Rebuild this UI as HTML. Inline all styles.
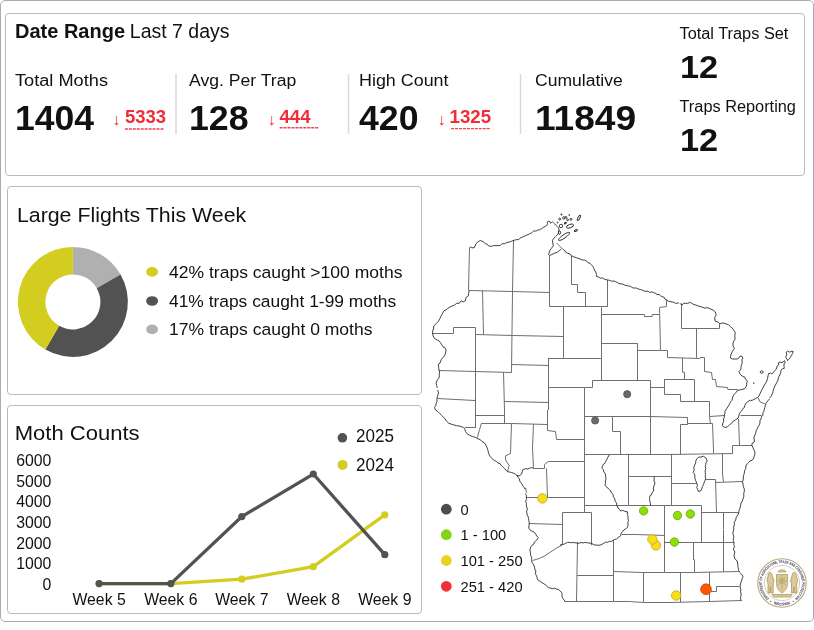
<!DOCTYPE html>
<html><head><meta charset="utf-8"><style>
html,body{margin:0;padding:0;background:#fff;}
body{width:814px;height:630px;position:relative;overflow:hidden;font-family:"Liberation Sans", Arial, sans-serif;}
.b{position:absolute;box-sizing:border-box;border:1px solid #bababa;border-radius:4px;background:#fff;}
svg{position:absolute;left:0;top:0;}
svg text{font-family:"Liberation Sans", Arial, sans-serif;}
</style></head><body>
<div class="b" style="left:0;top:0;width:814px;height:622px;border-color:#acacac;border-radius:5px"></div>
<div class="b" style="left:5px;top:13px;width:800px;height:163px"></div>
<div class="b" style="left:7px;top:186px;width:415px;height:209px"></div>
<div class="b" style="left:7px;top:405px;width:415px;height:209px"></div>
<svg width="814" height="630" viewBox="0 0 814 630">
<text x="15.00" y="38.2" font-size="19.6" font-weight="bold" fill="#111" text-anchor="start" textLength="110.03" lengthAdjust="spacingAndGlyphs">Date Range</text>
<text x="129.80" y="38.2" font-size="19.6" font-weight="normal" fill="#111" text-anchor="start" textLength="99.74" lengthAdjust="spacingAndGlyphs">Last 7 days</text>
<text x="15.00" y="85.9" font-size="17.3" font-weight="normal" fill="#111" text-anchor="start" textLength="92.98" lengthAdjust="spacingAndGlyphs">Total Moths</text>
<text x="15.00" y="130.4" font-size="34.5" font-weight="bold" fill="#111" text-anchor="start" textLength="79.05" lengthAdjust="spacingAndGlyphs">1404</text>
<text x="112.20" y="124.6" font-size="16" font-weight="normal" fill="#f22c36" text-anchor="start">↓</text>
<text x="125.00" y="123.1" font-size="17.8" font-weight="bold" fill="#f22c36" text-anchor="start" textLength="41.10" lengthAdjust="spacingAndGlyphs">5333</text>
<line x1="124.9" y1="129.0" x2="164.3" y2="129.0" stroke="#f22c36" stroke-width="1.4" stroke-dasharray="3,0.95" opacity="0.9"/>
<text x="189.00" y="85.9" font-size="17.3" font-weight="normal" fill="#111" text-anchor="start" textLength="107.22" lengthAdjust="spacingAndGlyphs">Avg. Per Trap</text>
<text x="189.00" y="130.4" font-size="34.5" font-weight="bold" fill="#111" text-anchor="start" textLength="59.56" lengthAdjust="spacingAndGlyphs">128</text>
<text x="267.50" y="124.6" font-size="16" font-weight="normal" fill="#f22c36" text-anchor="start">↓</text>
<text x="279.50" y="123.1" font-size="17.8" font-weight="bold" fill="#f22c36" text-anchor="start" textLength="31.00" lengthAdjust="spacingAndGlyphs">444</text>
<line x1="279.6" y1="127.7" x2="319.0" y2="127.7" stroke="#f22c36" stroke-width="1.4" stroke-dasharray="3,0.95" opacity="0.9"/>
<text x="359.00" y="85.9" font-size="17.3" font-weight="normal" fill="#111" text-anchor="start" textLength="89.55" lengthAdjust="spacingAndGlyphs">High Count</text>
<text x="359.00" y="130.4" font-size="34.5" font-weight="bold" fill="#111" text-anchor="start" textLength="59.46" lengthAdjust="spacingAndGlyphs">420</text>
<text x="437.50" y="124.6" font-size="16" font-weight="normal" fill="#f22c36" text-anchor="start">↓</text>
<text x="449.50" y="123.1" font-size="17.8" font-weight="bold" fill="#f22c36" text-anchor="start" textLength="41.60" lengthAdjust="spacingAndGlyphs">1325</text>
<line x1="451.1" y1="128.6" x2="490.5" y2="128.6" stroke="#f22c36" stroke-width="1.4" stroke-dasharray="3,0.95" opacity="0.9"/>
<text x="535.00" y="85.9" font-size="17.3" font-weight="normal" fill="#111" text-anchor="start" textLength="87.73" lengthAdjust="spacingAndGlyphs">Cumulative</text>
<text x="535.00" y="130.4" font-size="34.5" font-weight="bold" fill="#111" text-anchor="start" textLength="101.14" lengthAdjust="spacingAndGlyphs">11849</text>
<line x1="176" y1="74" x2="176" y2="134" stroke="#d8d8d8" stroke-width="1.5"/>
<line x1="348.5" y1="74" x2="348.5" y2="134" stroke="#d8d8d8" stroke-width="1.5"/>
<line x1="520.5" y1="74" x2="520.5" y2="134" stroke="#d8d8d8" stroke-width="1.5"/>
<text x="679.50" y="38.5" font-size="16" font-weight="normal" fill="#111" text-anchor="start" textLength="108.88" lengthAdjust="spacingAndGlyphs">Total Traps Set</text>
<text x="680.00" y="77.7" font-size="31" font-weight="bold" fill="#111" text-anchor="start" textLength="38.18" lengthAdjust="spacingAndGlyphs">12</text>
<text x="679.50" y="111.9" font-size="16" font-weight="normal" fill="#111" text-anchor="start" textLength="116.42" lengthAdjust="spacingAndGlyphs">Traps Reporting</text>
<text x="680.00" y="151" font-size="31" font-weight="bold" fill="#111" text-anchor="start" textLength="38.18" lengthAdjust="spacingAndGlyphs">12</text>
<text x="16.90" y="222.4" font-size="20.5" font-weight="normal" fill="#111" text-anchor="start" textLength="229.33" lengthAdjust="spacingAndGlyphs">Large Flights This Week</text>
<path d="M72.90,246.90 A55,55 0 0 1 120.53,274.40 L96.72,288.15 A27.5,27.5 0 0 0 72.90,274.40 Z" fill="#b0b0b0"/>
<path d="M120.53,274.40 A55,55 0 0 1 45.40,349.53 L59.15,325.72 A27.5,27.5 0 0 0 96.72,288.15 Z" fill="#525252"/>
<path d="M45.40,349.53 A55,55 0 0 1 72.90,246.90 L72.90,274.40 A27.5,27.5 0 0 0 59.15,325.72 Z" fill="#d3cd1f"/>
<ellipse cx="152.1" cy="271.9" rx="5.95" ry="4.85" fill="#d3cd1f"/>
<text x="169.00" y="278.2" font-size="17.4" font-weight="normal" fill="#111" text-anchor="start" textLength="233.46" lengthAdjust="spacingAndGlyphs">42% traps caught &gt;100 moths</text>
<ellipse cx="152.1" cy="301.0" rx="5.95" ry="4.85" fill="#525252"/>
<text x="169.00" y="307" font-size="17.4" font-weight="normal" fill="#111" text-anchor="start">41% traps caught 1-99 moths</text>
<ellipse cx="152.1" cy="329.4" rx="5.95" ry="4.85" fill="#b0b0b0"/>
<text x="169.00" y="334.6" font-size="17.4" font-weight="normal" fill="#111" text-anchor="start" textLength="203.45" lengthAdjust="spacingAndGlyphs">17% traps caught 0 moths</text>
<text x="14.70" y="440" font-size="20.8" font-weight="normal" fill="#111" text-anchor="start" textLength="124.92" lengthAdjust="spacingAndGlyphs">Moth Counts</text>
<text x="51.3" y="466.0" font-size="15.8" font-weight="normal" fill="#111" text-anchor="end" >6000</text>
<text x="51.3" y="486.65" font-size="15.8" font-weight="normal" fill="#111" text-anchor="end" >5000</text>
<text x="51.3" y="507.3" font-size="15.8" font-weight="normal" fill="#111" text-anchor="end" >4000</text>
<text x="51.3" y="527.95" font-size="15.8" font-weight="normal" fill="#111" text-anchor="end" >3000</text>
<text x="51.3" y="548.6" font-size="15.8" font-weight="normal" fill="#111" text-anchor="end" >2000</text>
<text x="51.3" y="569.25" font-size="15.8" font-weight="normal" fill="#111" text-anchor="end" >1000</text>
<text x="51.3" y="589.9" font-size="15.8" font-weight="normal" fill="#111" text-anchor="end" >0</text>
<text x="99.1" y="604.9" font-size="15.8" font-weight="normal" fill="#111" text-anchor="middle" >Week 5</text>
<text x="170.8" y="604.9" font-size="15.8" font-weight="normal" fill="#111" text-anchor="middle" >Week 6</text>
<text x="241.8" y="604.9" font-size="15.8" font-weight="normal" fill="#111" text-anchor="middle" >Week 7</text>
<text x="313.3" y="604.9" font-size="15.8" font-weight="normal" fill="#111" text-anchor="middle" >Week 8</text>
<text x="384.8" y="604.9" font-size="15.8" font-weight="normal" fill="#111" text-anchor="middle" >Week 9</text>
<polyline points="99.1,583.6 170.8,583.6 241.8,579.2 313.3,566.7 384.8,514.8" fill="none" stroke="#d3cd1f" stroke-width="3.3"/>
<circle cx="99.1" cy="583.6" r="3.6" fill="#d3cd1f"/>
<circle cx="170.8" cy="583.6" r="3.6" fill="#d3cd1f"/>
<circle cx="241.8" cy="579.2" r="3.6" fill="#d3cd1f"/>
<circle cx="313.3" cy="566.7" r="3.6" fill="#d3cd1f"/>
<circle cx="384.8" cy="514.8" r="3.6" fill="#d3cd1f"/>
<polyline points="99.1,583.6 170.8,583.6 241.8,516.6 313.3,474.0 384.8,554.7" fill="none" stroke="#525252" stroke-width="3.3"/>
<circle cx="99.1" cy="583.6" r="3.6" fill="#525252"/>
<circle cx="170.8" cy="583.6" r="3.6" fill="#525252"/>
<circle cx="241.8" cy="516.6" r="3.6" fill="#525252"/>
<circle cx="313.3" cy="474.0" r="3.6" fill="#525252"/>
<circle cx="384.8" cy="554.7" r="3.6" fill="#525252"/>
<circle cx="342.4" cy="437.8" r="4.8" fill="#525252"/>
<text x="356.00" y="442.3" font-size="17.7" font-weight="normal" fill="#111" text-anchor="start" textLength="37.88" lengthAdjust="spacingAndGlyphs">2025</text>
<circle cx="342.6" cy="464.9" r="5" fill="#d3cd1f"/>
<text x="356.00" y="471.2" font-size="17.7" font-weight="normal" fill="#111" text-anchor="start" textLength="37.88" lengthAdjust="spacingAndGlyphs">2024</text>
<g fill="none" stroke="#6e6e6e" stroke-width="1" stroke-linejoin="round">
<path d="M468.8,290.5 512.8,291.5 549.4,292.5"/>
<path d="M512.5,291.6 511.5,372.2"/>
<path d="M549.5,270.0 549.5,306.7"/>
<path d="M563.5,306.7 563.5,357.8"/>
<path d="M482.5,291.1 483.5,334.4"/>
<path d="M432.3,333.5 453.5,333.5 453.5,327.5 475.7,327.5"/>
<path d="M476.1,334.5 512.8,335.5 563.9,336.5"/>
<path d="M475.5,327.8 475.5,410.0"/>
<path d="M438.8,370.5 475.0,371.5 511.7,372.5"/>
<path d="M511.7,364.5 548.3,365.5"/>
<path d="M548.5,357.8 548.5,410.0"/>
<path d="M503.5,372.2 504.5,410.0"/>
<path d="M504.3,401.5 548.3,402.5"/>
<path d="M437.2,398.5 475.0,400.5"/>
<path d="M469.5,247.6 468.5,290.5"/>
<path d="M513.5,240.5 512.5,291.3"/>
<path d="M556.7,243.1 558.6,245.0 560.5,246.9 562.4,248.8 564.8,250.7"/>
<path d="M549.5,255.5 549.5,270.0"/>
<path d="M571.5,255.6 571.5,284.5 577.5,284.5 577.5,292.5 585.5,292.5 585.5,306.7"/>
<path d="M607.5,280.0 607.5,306.7"/>
<path d="M549.3,306.5 607.3,306.5"/>
<path d="M601.5,307.3 601.5,380.0"/>
<path d="M601.1,314.5 644.4,314.5 644.4,316.5 652.2,316.5 652.2,314.5 659.6,314.5"/>
<path d="M666.5,300.0 666.5,306.5 659.5,307.5 660.5,350.5 667.5,350.5 667.5,357.5 700.0,358.5"/>
<path d="M696.5,328.2 696.5,357.8"/>
<path d="M601.1,343.5 637.5,343.5 637.5,350.5 660.0,350.5"/>
<path d="M548.4,358.5 600.9,358.5"/>
<path d="M637.5,343.3 637.5,380.0"/>
<path d="M682.5,357.8 682.5,372.2 684.5,372.2 684.5,379.3"/>
<path d="M664.4,379.5 694.5,379.5 694.5,401.1"/>
<path d="M664.5,379.3 664.5,394.5 680.5,394.5 680.5,401.5 700.0,401.5"/>
<path d="M548.2,387.5 584.4,387.5 592.5,387.5 592.5,380.5 650.5,380.5 650.5,454.4"/>
<path d="M650.0,387.5 664.4,387.5"/>
<path d="M584.5,387.8 584.5,470.0"/>
<path d="M584.4,416.5 650.0,416.5 687.5,417.5 687.5,424.4"/>
<path d="M687.8,424.5 680.5,424.5 680.5,454.4"/>
<path d="M612.5,417.1 612.5,431.5 620.5,431.5 620.5,454.4"/>
<path d="M584.4,454.5 670.0,454.5"/>
<path d="M681.5,303.3 681.5,328.5 719.5,328.5 719.5,323.3"/>
<path d="M758.1,397.7 760.0,401.9 764.8,403.8"/>
<path d="M700.0,357.5 704.4,357.5"/>
<path d="M704.5,357.6 704.5,371.5 711.5,372.5 712.5,379.5 715.5,379.5 716.5,386.5 727.5,387.5 727.9,389.5 737.8,389.5"/>
<path d="M694.6,401.5 709.5,401.5 709.5,416.7 710.5,423.8"/>
<path d="M687.8,423.5 712.5,423.5 713.5,450.0"/>
<path d="M709.5,416.5 724.8,415.5"/>
<path d="M740.6,415.5 761.6,415.5"/>
<path d="M738.5,419.1 739.5,445.5"/>
<path d="M732.4,445.5 752.1,445.5"/>
<path d="M732.5,445.5 732.5,453.2"/>
<path d="M722.5,453.4 722.5,475.0"/>
<path d="M475.5,410.0 475.5,415.4 475.5,427.8"/>
<path d="M464.7,427.5 475.2,427.5"/>
<path d="M475.2,415.5 504.4,415.5"/>
<path d="M504.5,410.0 504.5,423.3"/>
<path d="M481.3,423.5 511.5,423.5"/>
<path d="M481.5,423.3 479.5,429.7 477.4,437.6"/>
<path d="M511.5,423.3 510.5,453.5 505.5,455.9 505.5,459.8 507.5,463.0 509.1,465.4 508.5,467.8 507.5,471.7"/>
<path d="M525.5,487.8 526.5,492.2 525.7,493.3"/>
<path d="M526.1,497.5 584.3,497.5"/>
<path d="M547.5,410.0 547.5,430.5 555.5,431.5 556.5,439.5 585.0,439.5"/>
<path d="M511.5,423.5 547.5,424.5"/>
<path d="M533.5,424.2 532.5,448.1 533.5,467.8"/>
<path d="M533.2,468.5 544.5,468.5 544.5,464.6 548.2,461.5 585.0,461.5"/>
<path d="M546.5,468.4 547.5,497.7"/>
<path d="M584.5,470.0 584.5,505.2 584.5,512.9"/>
<path d="M584.4,505.5 628.6,505.5 664.8,505.5 670.1,505.5"/>
<path d="M628.5,453.8 628.5,505.2"/>
<path d="M628.6,476.5 671.4,476.5"/>
<path d="M671.5,453.8 671.5,505.2"/>
<path d="M621.9,534.5 636.2,534.5 664.8,535.5"/>
<path d="M664.5,505.6 664.5,539.9"/>
<path d="M664.8,542.5 670.1,542.5"/>
<path d="M562.5,544.3 562.5,512.5 591.5,512.5 591.5,545.2"/>
<path d="M713.5,449.5 713.5,453.3"/>
<path d="M670.0,454.5 732.9,453.5"/>
<path d="M722.5,474.3 723.5,481.9"/>
<path d="M671.9,483.5 696.7,483.5"/>
<path d="M705.8,479.5 715.5,479.5 716.5,512.4"/>
<path d="M715.7,482.5 742.4,481.5"/>
<path d="M670.0,505.5 701.5,505.5 701.5,542.9"/>
<path d="M701.4,512.5 738.6,512.5"/>
<path d="M723.5,512.4 723.5,529.5"/>
<path d="M670.0,542.5 733.8,542.5"/>
<path d="M693.5,542.9 693.5,560.0"/>
<path d="M528.8,523.5 562.1,524.5"/>
<path d="M532.6,560.5 539.3,558.5 545.0,555.7 550.7,551.9 556.4,548.1 562.1,545.2"/>
<path d="M577.5,542.2 576.5,601.2"/>
<path d="M613.5,540.0 613.5,601.2"/>
<path d="M577.0,575.5 613.4,575.5"/>
<path d="M613.4,571.5 641.8,572.5 664.7,572.5 670.0,572.5"/>
<path d="M643.5,572.1 643.5,601.9"/>
<path d="M664.5,540.0 664.5,572.1"/>
<path d="M564.4,601.5 613.4,601.5 629.3,601.5 643.3,602.5 670.0,602.5"/>
<path d="M723.5,530.0 723.5,572.0"/>
<path d="M694.5,559.5 694.5,572.0"/>
<path d="M670.0,572.5 694.3,572.5 738.6,571.5"/>
<path d="M680.5,572.8 680.5,602.2"/>
<path d="M709.5,572.0 709.5,601.5"/>
<path d="M739.3,586.5 716.5,586.5 716.5,591.5 711.0,591.5"/>
<path d="M670.0,602.5 709.5,601.5 741.5,600.5"/>
</g>
<g fill="none" stroke="#2a2a2a" stroke-width="0.9" stroke-linejoin="round">
<path d="M443.9,346.7 445.2,348.2 446.1,350.0 445.4,353.3 444.6,355.8 442.8,357.8 441.5,359.3 440.6,361.1 440.0,363.1 438.3,364.4 438.4,366.3 438.8,368.1 438.8,370.0 439.7,371.8 439.2,373.7 439.4,375.6 439.0,378.1 437.2,380.0 436.1,383.3 436.8,385.5 437.2,387.8"/>
<path d="M469.8,247.6 470.3,246.8 471.9,247.9 474.3,247.6 475.1,246.0 475.9,243.7 478.3,241.6 480.6,240.5 483.0,241.6 485.4,243.7 487.4,244.3 488.6,246.0 491.7,246.3 493.8,245.5 496.0,245.7 498.1,245.6 500.4,245.4 502.2,243.7 504.4,243.7 506.7,242.5 509.2,242.1 511.3,241.4 513.2,240.5 516.3,239.7 518.6,239.5 520.3,238.1 523.5,236.5 526.7,235.2 529.8,233.7"/>
<path d="M530.0,234.0 531.9,232.6 533.8,230.7 535.7,231.2 537.6,230.2 539.5,229.8 541.4,228.8 543.3,227.4 545.2,226.4 546.7,225.5 547.6,223.6 547.1,222.1 548.6,221.2 550.0,221.7 550.5,223.1 551.4,222.6 552.4,221.7 553.3,222.6 554.3,223.6 555.7,225.0 557.1,226.4 558.6,227.9 559.0,229.8 558.6,232.6 557.6,234.5 555.7,236.4 553.8,238.3 552.4,240.7 552.9,243.1 553.3,246.0 551.4,248.3 550.0,250.2 549.2,252.3 548.6,254.5 549.5,255.5 551.9,254.5 554.8,253.1 557.6,252.1 558.9,250.8 560.5,249.8 561.4,248.8"/>
<path d="M564.4,250.0 565.6,252.2 567.8,253.3 569.8,253.9 571.1,255.6 573.3,256.7 576.7,257.8 580.0,258.9 582.2,260.0 584.4,260.0 586.7,261.1 588.0,262.7 590.0,263.3 592.2,265.6 593.6,267.6 594.4,270.0 595.7,272.1 596.5,274.3 596.7,276.7 598.6,276.9 600.2,278.2 602.4,277.9 604.0,279.0 605.9,279.6 607.8,280.0 609.7,280.4 611.5,281.2 613.6,281.0 615.5,281.6 617.3,282.4 619.0,283.6 621.0,283.8 623.0,284.2 624.7,285.1 626.7,285.6 628.6,286.0 630.6,286.4 632.4,287.6 634.4,288.1 636.5,288.0 638.3,289.0 640.3,289.5 642.2,290.0 644.0,291.0 645.9,291.3 648.0,291.1 649.7,292.6 651.9,291.8 653.7,292.7 655.6,293.3 657.0,294.5 659.1,294.5 660.6,295.8 662.2,296.7 664.1,297.2 665.0,299.1 666.7,300.0 668.2,301.1 670.0,301.6 673.3,302.2 675.6,303.3 678.9,302.9"/>
<path d="M680.0,303.3 681.9,305.2 683.8,303.3 685.7,303.4 687.6,303.3 690.5,302.4 693.3,304.3 696.2,305.2 699.0,306.2 701.9,307.1 704.8,308.1 707.6,307.7 710.5,309.0 713.3,310.0 715.2,311.9 716.2,314.8 714.7,317.6 715.2,320.5"/>
<path d="M714.3,320.0 715.9,321.5 718.1,321.9 720.0,323.8 722.9,322.9 725.7,323.8 728.6,324.8 730.5,326.7 732.1,327.9 733.3,329.5 735.2,332.4 734.9,335.2 734.8,337.2 735.2,339.0 733.3,341.9 733.0,343.8 733.0,345.7 734.3,348.6 732.4,351.4 731.0,354.3 730.6,356.2 730.5,358.1 732.4,359.0 734.8,359.0 737.1,359.0 738.9,358.0 740.0,356.2 741.9,356.2 742.9,358.1 741.9,359.9 742.3,361.9 741.9,363.8 741.2,365.7 741.0,367.6 740.6,369.8 739.0,371.4 739.7,373.5 741.0,375.2 742.8,376.4 744.8,377.1 745.6,379.5 747.6,381.0 746.7,382.7 746.7,384.8 746.0,386.8 744.8,388.6 741.9,389.5 739.0,390.1 737.1,390.9 735.8,392.7 734.3,394.3 733.1,396.1 732.4,398.1 732.1,400.3 730.5,401.9 729.6,403.8 728.6,405.7 726.7,408.6 724.8,411.4 725.0,413.4 724.2,415.2 724.4,417.3 723.4,419.0 723.8,421.1 722.9,422.9 722.3,425.7 724.8,427.6 727.6,426.7 729.5,424.8 731.2,423.6 732.4,421.9 735.2,420.0 738.1,418.1 739.0,415.2 739.5,413.4 740.6,411.9 741.9,410.5 742.7,408.8 744.3,407.6 744.8,405.7 745.7,403.4 747.6,401.9 750.5,400.0"/>
<path d="M769.5,399.0 767.6,401.0 765.7,403.8 765.3,405.7 764.8,407.6 764.2,409.5 763.8,411.4 762.8,413.2 762.9,415.2 761.5,416.9 761.0,419.0 759.9,420.8 760.0,422.9 759.3,424.9 758.1,426.7 757.3,428.6 756.2,430.5 755.9,432.4 755.2,434.3 754.4,436.1 753.9,438.0 754.3,440.0"/>
<path d="M437.7,390.0 438.5,393.2 437.4,396.3 436.9,399.5 437.0,401.6 436.1,403.5 435.8,405.7 434.5,407.5 435.3,409.8 437.7,411.4 440.1,413.8 442.5,416.2 444.8,418.6 446.4,421.0 448.8,423.3 451.2,424.1 453.6,424.9 456.7,425.7 459.9,426.2 463.1,427.3 464.7,428.9 465.5,431.3 467.1,433.7 469.4,435.2 472.6,436.5 475.8,437.6 479.0,439.2 480.8,440.1 482.1,441.6 484.0,442.5 485.3,444.0 486.9,447.1 487.7,449.5 488.5,452.7 489.3,455.1 490.5,456.7 491.7,458.3 493.2,459.6 494.8,460.6 496.6,461.5 498.0,463.0 500.0,463.6 501.2,465.4 503.6,467.8 506.0,470.2 507.5,471.7 509.5,472.0 511.5,472.5 513.6,473.2 515.5,474.1 517.1,475.7 518.2,477.4 519.4,478.9 520.0,481.6 521.8,483.7 522.8,485.8 524.2,487.6 525.0,489.2"/>
<path d="M516.4,475.4 519.0,476.0 521.5,474.1 522.2,471.9 522.8,469.7 525.3,468.7 527.9,469.0 530.4,467.8 533.2,467.8"/>
<path d="M654.3,476.7 654.1,478.8 654.0,481.0 655.0,483.1 654.3,485.2 653.3,488.1 653.7,491.0 652.1,492.5 651.4,494.8 649.9,495.7 649.6,497.6 649.6,499.6 649.8,501.5 650.5,503.3 650.5,505.2"/>
<path d="M609.5,454.8 607.6,457.6 606.8,459.6 605.7,461.4 605.0,463.2 603.4,464.3 602.5,466.1 601.9,468.1 603.4,469.7 603.8,471.9 605.4,474.0 605.7,476.7 606.0,479.1 605.3,481.4 605.5,483.4 604.8,485.2 606.8,487.0 608.6,489.0 610.5,490.5 611.4,492.9 613.1,494.4 613.3,496.7 614.8,498.9 615.2,501.4 616.6,503.1 616.8,505.2 618.1,508.1 619.5,509.4 620.6,511.0 622.7,510.4 624.8,511.3 627.6,511.9 627.3,514.4 628.2,516.7 627.9,518.6 628.5,520.5 627.8,522.4 628.1,524.8 627.6,527.1 625.9,528.8 623.8,530.0 622.7,531.6 621.3,532.9 620.6,535.7 618.1,537.6 616.4,539.1 614.3,539.5 611.4,541.4 609.4,541.4 607.6,542.4 605.5,542.1 603.8,543.3 601.9,544.3 600.0,545.2 597.1,545.2 594.3,544.9 591.4,543.3 588.6,543.0 586.7,542.7 584.8,542.4 582.9,543.0 581.0,542.4 579.1,543.3 577.1,543.0 575.2,542.9 573.3,542.4 571.4,542.7 569.5,542.4 567.5,542.4 565.7,543.3 563.9,544.3 561.9,544.3 560.0,545.2"/>
<path d="M754.4,440.0 754.2,442.1 752.1,443.3 751.9,445.3 752.8,447.4 753.8,449.5 754.8,451.8 754.8,454.3 754.2,456.2 753.8,458.1 752.3,460.1 750.0,461.0 748.5,462.4 747.1,463.8 745.8,466.0 745.8,468.6 744.5,470.8 744.3,473.3 743.5,475.7 743.3,478.1 743.2,480.1 742.4,481.9 743.1,484.2 743.3,486.7 744.3,488.9 744.3,491.4 743.7,493.8 743.9,496.2 743.1,498.6 742.4,501.0 741.0,503.2 740.5,505.7 740.0,508.2 739.0,510.5 738.7,513.0 737.6,515.2 736.2,517.4 735.7,520.0 734.3,522.2 734.4,524.8 733.6,527.1 733.8,529.5 733.4,530.1"/>
<path d="M698.6,457.1 701.0,457.1 703.3,456.2 706.2,458.1 707.1,461.0 706.0,462.7 705.8,464.8 705.3,466.6 705.8,468.6 705.2,470.5 705.2,472.4 705.5,474.3 705.2,476.2 705.6,478.2 705.3,480.1 704.3,481.9 703.6,484.4 702.4,486.7 701.8,489.0 700.5,491.0 698.2,491.4 697.7,489.4 696.7,487.6 697.4,485.2 696.7,482.9 695.6,480.5 694.8,478.1 694.9,476.0 694.5,474.1 693.2,472.4 694.2,470.1 693.8,467.6 694.6,465.2 695.7,462.9 695.8,460.9 696.7,459.0 698.6,457.1"/>
<path d="M525.6,493.8 526.4,495.6 526.3,497.6 526.4,499.6 525.6,501.4 526.4,503.2 526.3,505.2 526.7,507.2 527.5,509.0 526.6,510.9 526.9,512.9 527.1,514.9 528.2,516.7 528.6,518.6 528.8,520.5 529.4,523.3 528.9,525.7 528.8,528.1 529.9,529.8 531.7,531.0 533.9,531.9 535.5,533.8 536.7,535.9 538.3,537.6 536.4,540.5 534.5,542.0 533.6,544.3 531.8,545.4 530.7,547.1 530.1,549.0 530.1,551.0 530.5,553.3 530.7,555.7 531.7,557.5 531.7,559.5 531.7,561.5 532.6,563.3 533.8,565.1 534.5,567.1 534.8,569.2 535.9,571.0 535.4,573.4 536.4,575.7 537.1,577.6 537.4,579.5 540.2,581.4 543.1,583.3 545.1,584.6 546.9,586.2 548.5,587.7 550.7,588.1 552.6,588.7 554.6,588.2 556.4,589.0 558.6,589.5 560.2,591.0 561.7,592.6 562.1,594.8 562.0,596.8 563.1,598.6 565.0,601.4"/>
<path d="M733.7,530.0 732.9,532.2 733.1,534.4 733.8,536.6 733.4,538.8 733.3,540.8 734.1,542.5 733.6,544.5 734.6,546.2 733.4,549.2 734.9,552.1 734.3,553.9 734.1,555.8 734.9,558.7 737.1,561.0 737.7,563.1 737.8,565.4 738.1,567.6 738.6,569.8 739.3,572.0 741.5,574.2 743.0,576.4 742.2,578.7 741.5,580.9 740.5,583.8 740.0,586.8 740.8,589.3 740.5,591.9 741.3,594.1 740.8,596.3 740.4,598.7 741.5,600.8"/>
<path d="M750.5,400.7 752.4,400.2 755.2,398.8 757.6,397.4 759.0,396.0 760.0,393.6 761.4,390.7 762.9,387.9 764.3,385.0 765.7,383.1 766.7,381.2 767.6,378.3 768.1,375.5 768.6,373.6 770.5,373.1 771.9,374.0 772.9,373.1 774.3,371.2 775.7,369.8 776.7,367.9 777.1,366.0 778.6,365.0 778.6,362.6 780.0,362.1 781.9,362.6 783.3,361.7 784.8,360.7 785.0,362.6 784.0,364.0 784.0,366.4 784.3,368.3 782.4,368.8 781.1,370.2 780.8,372.6 780.0,374.5 779.0,376.4 778.3,378.3 777.9,380.2 777.0,382.1 776.0,384.0 774.8,386.0 773.8,388.8 772.9,391.7 772.4,393.6 771.0,396.4 769.5,398.3"/>
<path d="M785.7,357.4 786.7,354.5 786.2,352.1 787.6,351.2 789.5,352.1 791.9,351.2 793.3,351.7 792.4,353.6 791.4,355.5 790.0,357.9 788.6,359.3 787.6,360.7 787.1,359.3 785.7,357.4"/>
<path d="M469.2,290.9 468.6,293.3 468.4,295.7 465.9,297.6 465.4,300.8 463.1,302.0 461.2,300.8 459.3,303.3 456.4,303.3 454.5,305.2 451.7,306.2 448.8,307.7 447.3,308.8 445.9,310.0 444.1,310.6 443.1,312.3 442.2,314.0 441.2,315.7 439.9,318.5 438.3,321.4 436.4,323.3 434.5,325.2 433.5,327.0 433.6,329.0 432.6,330.8 432.6,332.8 433.0,335.7 434.5,338.5 437.4,340.1 439.1,340.9 440.2,342.3 442.1,345.2 443.5,347.7"/>
<ellipse cx="578.9" cy="217.9" rx="1.0" ry="2.9" transform="rotate(30 578.9 217.9)"/>
<ellipse cx="570.0" cy="226.1" rx="3.8" ry="1.7" transform="rotate(-20 570.0 226.1)"/>
<ellipse cx="564.1" cy="236.4" rx="6.7" ry="1.7" transform="rotate(-35 564.1 236.4)"/>
<ellipse cx="561.0" cy="226.0" rx="1.7" ry="1.7" transform="rotate(0 561.0 226.0)"/>
<ellipse cx="559.5" cy="232.6" rx="1.0" ry="1.9" transform="rotate(0 559.5 232.6)"/>
<ellipse cx="575.9" cy="230.5" rx="1.7" ry="0.8" transform="rotate(-25 575.9 230.5)"/>
<ellipse cx="559.7" cy="219.1" rx="0.8" ry="1.1" transform="rotate(0 559.7 219.1)"/>
<ellipse cx="563.8" cy="217.9" rx="1.1" ry="1.3" transform="rotate(0 563.8 217.9)"/>
<ellipse cx="566.0" cy="217.4" rx="0.8" ry="1.0" transform="rotate(0 566.0 217.4)"/>
<ellipse cx="567.6" cy="219.8" rx="0.8" ry="1.0" transform="rotate(0 567.6 219.8)"/>
<ellipse cx="571.0" cy="219.3" rx="0.9" ry="1.1" transform="rotate(0 571.0 219.3)"/>
<ellipse cx="565.4" cy="223.1" rx="1.1" ry="0.7" transform="rotate(-30 565.4 223.1)"/>
<ellipse cx="561.4" cy="214.5" rx="0.4" ry="0.8" transform="rotate(0 561.4 214.5)"/>
<ellipse cx="569.2" cy="215.0" rx="0.3" ry="0.6" transform="rotate(0 569.2 215.0)"/>
<ellipse cx="557.6" cy="222.6" rx="0.5" ry="0.5" transform="rotate(0 557.6 222.6)"/>
<ellipse cx="761.7" cy="372.1" rx="1.5" ry="1.2" transform="rotate(0 761.7 372.1)"/>
<ellipse cx="753.8" cy="383.1" rx="0.4" ry="0.4" transform="rotate(0 753.8 383.1)"/>
</g>
<circle cx="627.2" cy="394.2" r="3.6" fill="#6a6a6a" stroke="#4a4a4a" stroke-width="0.7"/>
<circle cx="595.1" cy="420.5" r="3.6" fill="#6a6a6a" stroke="#4a4a4a" stroke-width="0.7"/>
<circle cx="643.6" cy="510.9" r="4.2" fill="#8fe000" stroke="#5e9a00" stroke-width="0.7"/>
<circle cx="677.5" cy="515.5" r="4.2" fill="#8fe000" stroke="#5e9a00" stroke-width="0.7"/>
<circle cx="690.3" cy="514.0" r="4.2" fill="#8fe000" stroke="#5e9a00" stroke-width="0.7"/>
<circle cx="674.4" cy="542.0" r="4.2" fill="#8fe000" stroke="#5e9a00" stroke-width="0.7"/>
<circle cx="676.2" cy="595.5" r="4.75" fill="#f7dd1a" stroke="#b9a016" stroke-width="0.7"/>
<circle cx="656.0" cy="545.4" r="4.75" fill="#f7dd1a" stroke="#b9a016" stroke-width="0.7"/>
<circle cx="652.4" cy="539.5" r="4.75" fill="#f7dd1a" stroke="#b9a016" stroke-width="0.7"/>
<circle cx="542.4" cy="498.4" r="4.75" fill="#f7dd1a" stroke="#b9a016" stroke-width="0.7"/>
<circle cx="706.0" cy="589.2" r="5.4" fill="#ff5500" stroke="#b83c00" stroke-width="0.7"/>
<circle cx="446.3" cy="509.2" r="5.4" fill="#4d4d4d"/>
<text x="460.5" y="514.5" font-size="14.7" font-weight="normal" fill="#111" text-anchor="start" >0</text>
<circle cx="446.3" cy="534.7" r="5.4" fill="#82d414"/>
<text x="460.5" y="540.0" font-size="14.7" font-weight="normal" fill="#111" text-anchor="start" >1 - 100</text>
<circle cx="446.3" cy="560.5" r="5.4" fill="#e9d322"/>
<text x="460.5" y="565.8" font-size="14.7" font-weight="normal" fill="#111" text-anchor="start" >101 - 250</text>
<circle cx="446.3" cy="586.3" r="5.4" fill="#f23232"/>
<text x="460.5" y="591.5999999999999" font-size="14.7" font-weight="normal" fill="#111" text-anchor="start" >251 - 420</text>
<g>
<circle cx="782" cy="583" r="24.2" fill="#fff" stroke="#bda878" stroke-width="1.1"/>
<circle cx="782" cy="583" r="17.6" fill="none" stroke="#cbb98f" stroke-width="0.7"/>
<defs><path id="sealarc" d="M769.14,598.32 A20,20 0 1 1 794.86,598.32"/><path id="sealbot" d="M770.70,602.57 A22.6,22.6 0 0 0 793.30,602.57"/></defs>
<text font-size="3.9" font-weight="bold" fill="#2b3352"><textPath href="#sealarc" textLength="97" lengthAdjust="spacingAndGlyphs">DEPARTMENT OF AGRICULTURE, TRADE AND CONSUMER PROTECTION</textPath></text>
<text font-size="3.9" font-weight="bold" fill="#2b3352"><textPath href="#sealbot" startOffset="50%" text-anchor="middle" textLength="17" lengthAdjust="spacingAndGlyphs">WISCONSIN</textPath></text>
<circle cx="770.8" cy="601.3" r="0.6" fill="#2b3352"/><circle cx="793.2" cy="601.3" r="0.6" fill="#2b3352"/>
<g fill="#d9c99c" stroke="#a8904f" stroke-width="0.7">
<path d="M776.5,574.5 h11 v9 c0,5 -3,8 -5.5,9.5 c-2.5,-1.5 -5.5,-4.5 -5.5,-9.5 z"/>
<path d="M768.5,574 c0,-2 3,-2 3.2,0 l1,3 l1.5,4 l-1,3 v9 h-2.2 l-0.5,-6 l-0.5,6 h-2 v-9 l-1,-4 z"/>
<path d="M792.5,574 c0,-2 3,-2 3.2,0 l1,3 l1,4 l-1,3 v9 h-2.2 l-0.5,-6 l-0.5,6 h-2 v-9 l-1,-3 z"/>
<path d="M778,572 c1,-3 7,-3 8,0 z"/>
<path d="M772,594.5 h20 l-1.5,2.5 h-17 z"/>
</g>
<g stroke="#b39c62" stroke-width="0.6" fill="none">
<path d="M782,575 v16 M777,581 h10 M778.5,577 l7,8 M785.5,577 l-7,8"/>
<circle cx="782" cy="581" r="2.5"/>
</g>
</g>
</svg>
</body></html>
